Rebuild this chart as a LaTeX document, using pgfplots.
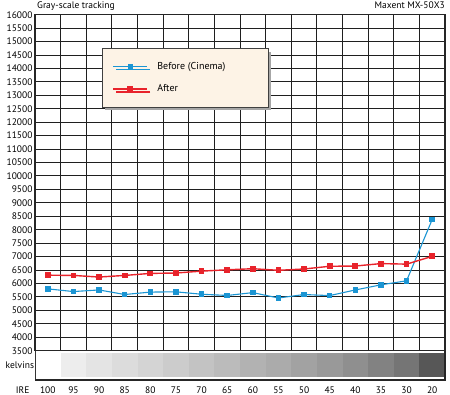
\documentclass[border=0pt]{standalone}
\usepackage{pgfplots}
\pgfplotsset{compat=1.18}
\usepackage{fontspec}
\setmainfont{PT Sans}
\usetikzlibrary{shadows}
\definecolor{cblue}{HTML}{1B95D3}
\definecolor{cred}{HTML}{E8232B}
\definecolor{legfill}{HTML}{FDF3E6}
\begin{document}
\begin{tikzpicture}[x=1pt,y=1pt]
\path[use as bounding box] (0,0) rectangle (450,395);
\begin{axis}[
  at={(35pt,44.3pt)}, anchor=south west,
  scale only axis, width=410pt, height=336pt,
  xmin=-0.5, xmax=15.5, ymin=3500, ymax=16000,
  xtick={0,...,15},
  xticklabels={100,95,90,85,80,75,70,65,60,55,50,45,40,35,30,20},
  minor xtick={-0.5,0.5,...,15.5},
  ytick={3500,4000,...,16000},
  scaled y ticks=false,
  yticklabel={\pgfmathprintnumber[fixed,precision=0,1000 sep={}]{\tick}},
  xminorgrids, ymajorgrids, xmajorgrids=false,
  major tick length=0pt, minor tick length=0pt,
  grid style={black!88, line width=1pt},
  minor grid style={black!88, line width=1pt},
  axis line style={black!85, line width=1.4pt},
  tick label style={font=\fontsize{9.5}{10}\selectfont},
  /pgf/number format/assume math mode=true,
  /pgf/number format/1000 sep={},
  xticklabel style={anchor=base, yshift=-42.6pt},
  yticklabel style={anchor=east, xshift=1pt},
  clip=false,
  legend cell align=left,
  legend image code/.code={\draw[mark repeat=2,mark phase=2] plot coordinates {(0pt,0pt) (17pt,0pt) (34pt,0pt)};},
  legend style={at={(0.1627,0.9)}, anchor=north west, draw=black!75, line width=0.7pt,
    fill=legfill, drop shadow={shadow xshift=3pt, shadow yshift=-3pt, fill=black!35, opacity=1},
    inner xsep=10.6pt, inner ysep=13.4pt, row sep=13.6pt, column sep=9.3pt,
    font=\fontsize{10}{12}\selectfont,
    nodes={inner sep=0pt, text height=7pt, text depth=2pt}},
]
% gray scale strip
\fill[black!7]  (axis cs:0.5,3414) rectangle (axis cs:1.5,2522);
\fill[black!10.5] (axis cs:1.5,3414) rectangle (axis cs:2.5,2522);
\fill[black!13.7] (axis cs:2.5,3414) rectangle (axis cs:3.5,2522);
\fill[black!17] (axis cs:3.5,3414) rectangle (axis cs:4.5,2522);
\fill[black!20] (axis cs:4.5,3414) rectangle (axis cs:5.5,2522);
\fill[black!23.5] (axis cs:5.5,3414) rectangle (axis cs:6.5,2522);
\fill[black!26.7] (axis cs:6.5,3414) rectangle (axis cs:7.5,2522);
\fill[black!30] (axis cs:7.5,3414) rectangle (axis cs:8.5,2522);
\fill[black!33] (axis cs:8.5,3414) rectangle (axis cs:9.5,2522);
\fill[black!36.5] (axis cs:9.5,3414) rectangle (axis cs:10.5,2522);
\fill[black!40] (axis cs:10.5,3414) rectangle (axis cs:11.5,2522);
\fill[black!44] (axis cs:11.5,3414) rectangle (axis cs:12.5,2522);
\fill[black!49] (axis cs:12.5,3414) rectangle (axis cs:13.5,2522);
\fill[black!54] (axis cs:13.5,3414) rectangle (axis cs:14.5,2522);
\fill[black!66] (axis cs:14.5,3414) rectangle (axis cs:15.5,2522);
\draw[black!80, line width=0.8pt] (axis cs:-0.5,3500) -- (axis cs:-0.5,2410);
\draw[black!85, line width=1.4pt] (axis cs:15.5,3500) -- (axis cs:15.5,2410) -- (axis cs:-0.5,2410);

\addplot[cblue, line width=1.1pt, mark=square*, mark size=2.2pt, mark options={solid}] coordinates {
(0,5800)(1,5700)(2,5760)(3,5590)(4,5680)(5,5690)(6,5600)(7,5555)(8,5660)(9,5460)(10,5590)(11,5550)(12,5760)(13,5950)(14,6100)(15,8380)};
\addlegendentry{\makebox[100pt][l]{Before (Cinema)}}
\addplot[cred, line width=1.4pt, mark=square*, mark size=2.2pt, mark options={solid}] coordinates {
(0,6310)(1,6300)(2,6240)(3,6300)(4,6375)(5,6390)(6,6460)(7,6510)(8,6550)(9,6490)(10,6540)(11,6640)(12,6650)(13,6740)(14,6720)(15,7010)};
\addlegendentry{\makebox[100pt][l]{After}}
\end{axis}
\node[anchor=base west, font=\fontsize{9.5}{10}\selectfont, inner sep=0pt] at (37,386) {Gray-scale tracking};
\node[anchor=base east, font=\fontsize{9.5}{10}\selectfont, inner sep=0pt] at (445,386) {Maxent MX-50X3};
\node[anchor=base west, font=\fontsize{9.5}{10}\selectfont, inner sep=0pt] at (5.5,26.7) {kelvins};
\node[anchor=base west, font=\fontsize{9.5}{10}\selectfont, inner sep=0pt] at (15.7,1.7) {IRE};
\end{tikzpicture}
\end{document}
